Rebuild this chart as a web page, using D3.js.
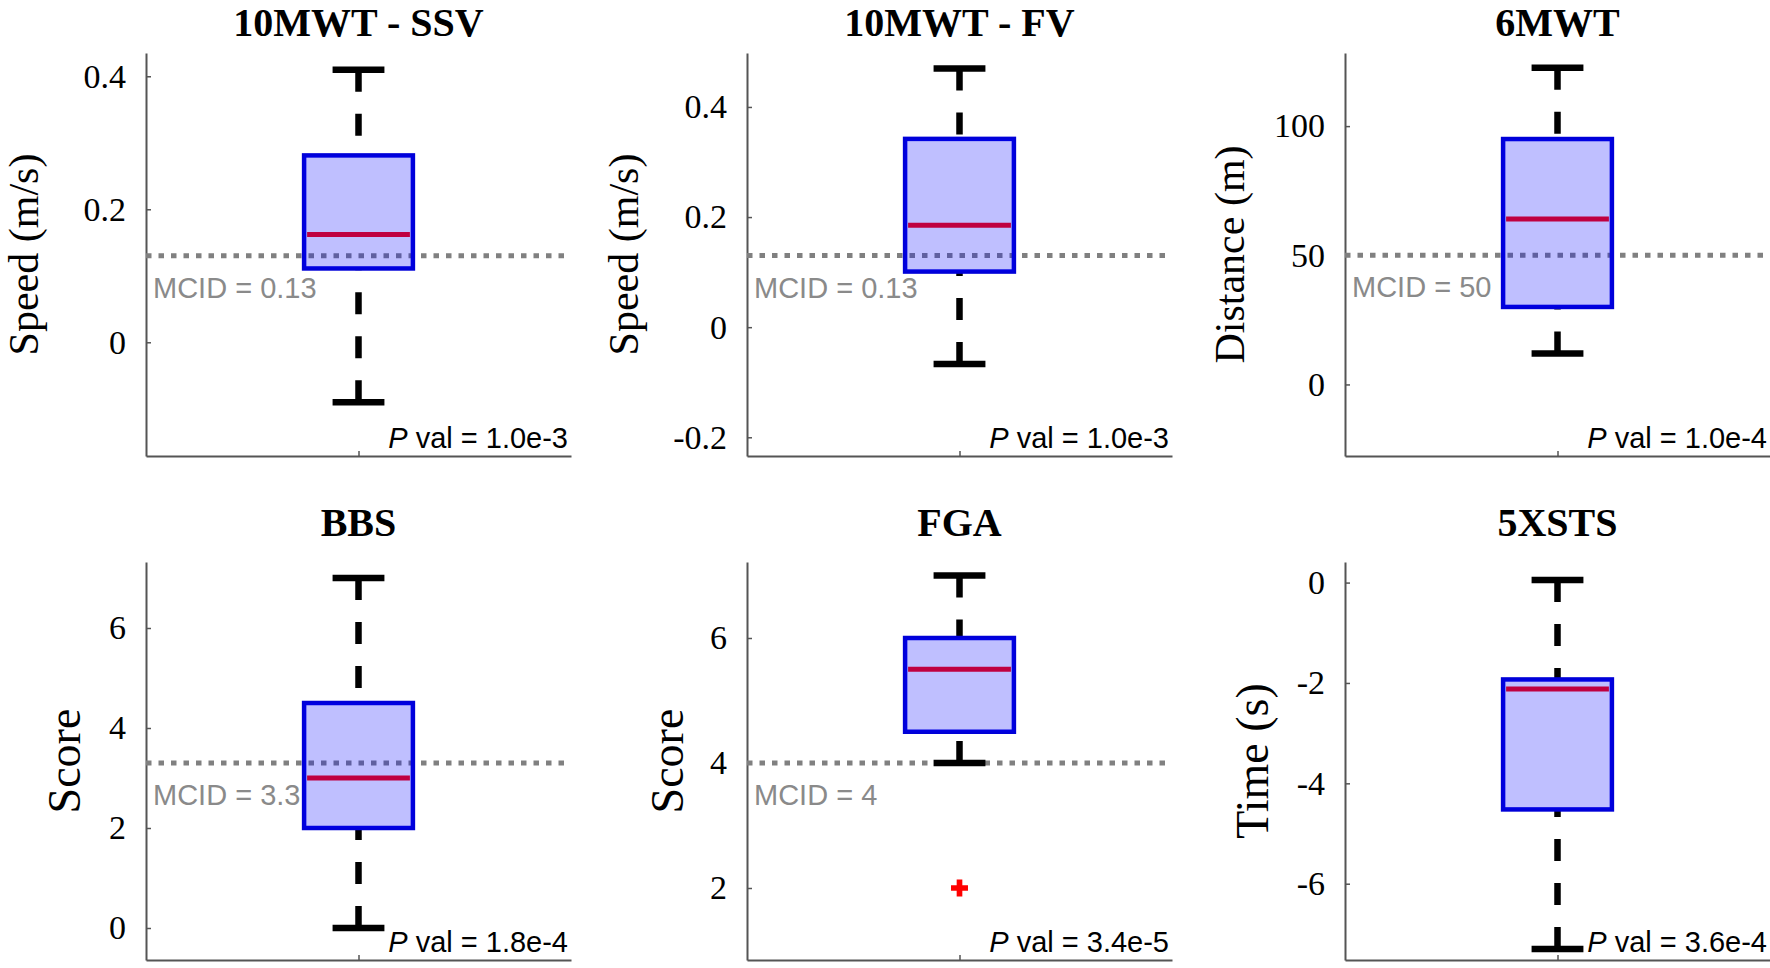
<!DOCTYPE html>
<html>
<head>
<meta charset="utf-8">
<script src="https://cdn.jsdelivr.net/npm/d3@7"></script>
<style>
  body { margin: 0; background: #fff; }
  svg { display: block; }
</style>
</head>
<body>
<svg id="chart" width="1770" height="968"></svg>
<script>
// values, one entry per panel
const titles = ["10MWT - SSV", "10MWT - FV", "6MWT", "BBS", "FGA", "5XSTS"];
const yLabels = ["Speed (m/s)", "Speed (m/s)", "Distance (m)", "Score", "Score", "Time (s)"];
const whiskerLow = [-0.09, -0.067, 12, 0, 4, -7.3];
const q1 = [0.111, 0.101, 30, 2, 4.5, -4.52];
const medians = [0.162, 0.185, 64, 3, 5.5, -2.12];
const q3 = [0.281, 0.342, 95, 4.5, 6, -1.93];
const whiskerHigh = [0.41, 0.47, 122.6, 7, 7, 0.05];
const outliers = [[], [], [], [], [2], []];
const mcid = [0.13, 0.13, 50, 3.3, 4, null];
const mcidLabels = ["MCID = 0.13", "MCID = 0.13", "MCID = 50", "MCID = 3.3", "MCID = 4", ""];
const pVals = ["1.0e-3", "1.0e-3", "1.0e-4", "1.8e-4", "3.4e-5", "3.6e-4"];
const yLimits = [[-0.171, 0.435], [-0.234, 0.498], [-27.7, 128.3], [-0.64, 7.32], [0.848, 7.216], [-7.52, 0.41]];
const yTicks = [[0, 0.2, 0.4], [-0.2, 0, 0.2, 0.4], [0, 50, 100], [0, 2, 4, 6], [2, 4, 6], [-6, -4, -2, 0]];
const yTickLabels = [["0", "0.2", "0.4"], ["-0.2", "0", "0.2", "0.4"], ["0", "50", "100"],
                     ["0", "2", "4", "6"], ["2", "4", "6"], ["-6", "-4", "-2", "0"]];

// layout
const colLeft = [146, 747, 1345];
const plotW = 425;
const rowTop = [53, 562];
const rowBottom = [456, 960];
const titleBase = [36, 536];
const labelOffset = [122, 123, 115, 82, 80, 93];
const labelSize = [42, 42, 42, 46, 46, 46];
const boxHalf = 0.128, capHalf = 0.061;

const serif = "'Liberation Serif', 'Times New Roman', serif";
const sans = "'Liberation Sans', Arial, sans-serif";

const svg = d3.select("#chart");

titles.forEach((title, i) => {
    let col = i % 3, row = Math.floor(i / 3);
    let top = rowTop[row], bottom = rowBottom[row];
    let g = svg.append("g").attr("transform", `translate(${colLeft[col]},0)`);

    let x = d3.scaleLinear().domain([0.5, 1.5]).range([0, plotW]);
    let y = d3.scaleLinear().domain(yLimits[i]).range([bottom, top]);

    // axes (ticks point inwards, no box)
    let yAxis = g.append("g")
        .call(d3.axisLeft(y).tickValues(yTicks[i])
            .tickFormat((d, j) => yTickLabels[i][j])
            .tickSizeInner(-5).tickSizeOuter(0).tickPadding(20));
    yAxis.selectAll("text").attr("font-family", serif).attr("font-size", 34).attr("fill", "#000");

    g.append("g")
        .attr("transform", `translate(0,${bottom})`)
        .call(d3.axisBottom(x).tickValues([1]).tickFormat("")
            .tickSizeInner(-5).tickSizeOuter(0));

    g.selectAll(".domain").attr("stroke", "#555").attr("stroke-width", 2);
    g.selectAll(".tick line").attr("stroke", "#555").attr("stroke-width", 1.5);

    // title and y label
    g.append("text")
        .attr("x", x(1)).attr("y", titleBase[row])
        .attr("text-anchor", "middle")
        .attr("font-family", serif).attr("font-weight", "bold").attr("font-size", 40)
        .text(title);

    g.append("text")
        .attr("transform", `translate(${-labelOffset[i]},${(top + bottom) / 2}) rotate(-90)`)
        .attr("text-anchor", "middle")
        .attr("dominant-baseline", "central")
        .attr("font-family", serif).attr("font-size", labelSize[i])
        .text(yLabels[i]);

    // MCID reference line
    if (mcid[i] !== null) {
        g.append("line")
            .attr("x1", 0).attr("x2", plotW)
            .attr("y1", y(mcid[i])).attr("y2", y(mcid[i]))
            .attr("stroke", "#808080").attr("stroke-width", 5)
            .attr("stroke-dasharray", "5.5,7");
        g.append("text")
            .attr("x", 7).attr("y", y(mcid[i]) + 42)
            .attr("font-family", sans).attr("font-size", 29).attr("fill", "#8a8a8a")
            .text(mcidLabels[i]);
    }

    // whiskers, drawn from the cap towards the box
    [[whiskerHigh[i], q3[i]], [whiskerLow[i], q1[i]]].forEach(w => {
        g.append("line")
            .attr("x1", x(1)).attr("x2", x(1))
            .attr("y1", y(w[0])).attr("y2", y(w[1]))
            .attr("stroke", "#000").attr("stroke-width", 6.5)
            .attr("stroke-dasharray", "22,22");
        g.append("line")
            .attr("x1", x(1 - capHalf)).attr("x2", x(1 + capHalf))
            .attr("y1", y(w[0])).attr("y2", y(w[0]))
            .attr("stroke", "#000").attr("stroke-width", 6.5);
    });

    // box outline and median, then the translucent patch on top
    g.append("rect")
        .attr("x", x(1 - boxHalf)).attr("width", x(1 + boxHalf) - x(1 - boxHalf))
        .attr("y", y(q3[i])).attr("height", y(q1[i]) - y(q3[i]))
        .attr("fill", "none").attr("stroke", "#0000d8").attr("stroke-width", 4.5);

    g.append("line")
        .attr("x1", x(1 - boxHalf) + 3).attr("x2", x(1 + boxHalf) - 3)
        .attr("y1", y(medians[i])).attr("y2", y(medians[i]))
        .attr("stroke", "#ff0000").attr("stroke-width", 5);

    g.append("rect")
        .attr("x", x(1 - boxHalf)).attr("width", x(1 + boxHalf) - x(1 - boxHalf))
        .attr("y", y(q3[i])).attr("height", y(q1[i]) - y(q3[i]))
        .attr("fill", "#0000ff").attr("fill-opacity", 0.25);

    // outliers
    g.selectAll(".outlier")
        .data(outliers[i])
        .enter().append("path")
        .attr("class", "outlier")
        .attr("transform", d => `translate(${x(1)},${y(d)})`)
        .attr("d", d3.symbol(d3.symbolCross, 160))
        .attr("fill", "#ff0000");

    // p value
    let p = g.append("text")
        .attr("x", plotW - 3).attr("y", bottom - 8)
        .attr("text-anchor", "end")
        .attr("font-family", sans).attr("font-size", 29).attr("fill", "#000");
    p.append("tspan").attr("font-style", "italic").text("P");
    p.append("tspan").text(" val = " + pVals[i]);
});
</script>
</body>
</html>
